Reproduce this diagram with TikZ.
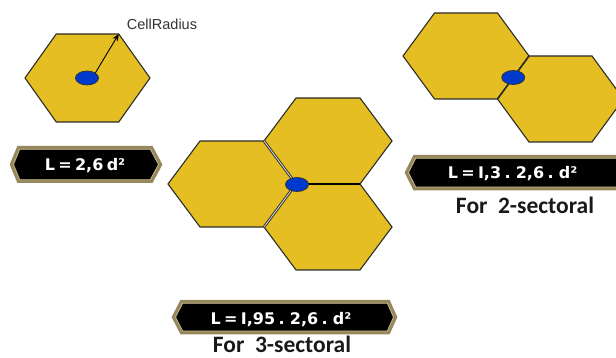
\documentclass[tikz,border=0pt]{standalone}
\usepackage{fontspec}
\setmainfont{Liberation Sans}
\newfontfamily\boxfont[WordSpace=0.6]{DejaVu Sans}
\newfontfamily\capfont{Carlito}
\usetikzlibrary{arrows.meta,shapes.geometric}
\definecolor{hexfill}{RGB}{228,190,34}
\definecolor{hexedge}{RGB}{45,45,40}
\definecolor{dotblue}{RGB}{0,58,205}
\definecolor{boxrim}{RGB}{150,136,92}
\definecolor{boxrimlight}{RGB}{196,184,140}
\definecolor{captext}{RGB}{25,25,25}
\tikzset{
  hexline/.style={draw=hexedge, fill=hexfill, line width=1.1pt, line join=miter},
  sharededge/.style={draw=hexedge, line width=0.9pt, double=gray!35, double distance=0.9pt},
  bsdot/.style={ellipse, draw=black!80, fill=dotblue, line width=0.8pt, minimum width=23pt, minimum height=14pt, inner sep=0pt},
  rimbox/.style={draw=boxrim, fill=black, line width=3.4pt, line join=miter},
  rimlight/.style={draw=boxrimlight, line width=0.8pt, line join=miter},
  boxtext/.style={text=white, font=\boxfont\bfseries\fontsize{16}{16}\selectfont, anchor=base, inner sep=0pt},
  captiontext/.style={text=captext, font=\capfont\bfseries\fontsize{23.5}{23.5}\selectfont, anchor=base, inner sep=0pt},
  radiustext/.style={text=black!80, font=\fontsize{14.5}{14.5}\selectfont, inner sep=0pt}
}
% hexagon: centre x, centre y, half width, half height
\newcommand{\hexcell}[4]{%
  \draw[hexline] ({#1-#3},{#2}) -- ({#1-#3/2},{#2-#4}) -- ({#1+#3/2},{#2-#4})
    -- ({#1+#3},{#2}) -- ({#1+#3/2},{#2+#4}) -- ({#1-#3/2},{#2+#4}) -- cycle;}
% label box: left x, right x, top y, bottom y, left indent, right indent
\newcommand{\labelbox}[6]{%
  \draw[rimbox] ({#1},{(#3+#4)/2}) -- ({#1+#5},{#3}) -- ({#2-#6},{#3})
    -- ({#2},{(#3+#4)/2}) -- ({#2-#6},{#4}) -- ({#1+#5},{#4}) -- cycle;
  \draw[rimlight] ({#1+2},{(#3+#4)/2}) -- ({#1+#5+1.2},{#3+1.6}) -- ({#2-#6-1.2},{#3+1.6})
    -- ({#2-2},{(#3+#4)/2}) -- ({#2-#6-1.2},{#4-1.6}) -- ({#1+#5+1.2},{#4-1.6}) -- cycle;}
\begin{document}
\begin{tikzpicture}[x=1pt,y=-1pt]
\useasboundingbox (0,0) rectangle (616,358);
\clip (0,0) rectangle (616,358);

% ---- single cell ----
\hexcell{87.5}{78}{62.5}{44}
\node[bsdot] (d1) at (87,78) {};
\coordinate (v1) at (118.75,34);
\draw[-{Stealth[length=7pt,width=6pt]}, line width=0.9pt, black] (d1.north east) -- (v1);
\node[radiustext] (cr) at (162,24) {CellRadius};
\labelbox{11.5}{160.5}{147.7}{181.3}{7}{9}
\node[boxtext] (t1) at (85,170.5) {L = 2,6 d²};

% ---- 2-sectoral ----
\hexcell{466}{56}{63}{43}
\hexcell{560.5}{99}{63}{43}
\coordinate (s2a) at (529,56);
\coordinate (s2b) at (497.5,99);
\draw[draw=hexedge, line width=1.6pt] (s2a) -- (s2b);
\node[bsdot] (d2) at (513.25,77.5) {};
\labelbox{406.5}{640}{156.7}{188.6}{8}{8}
\node[boxtext] (t2) at (512.5,179) {L = I,3 . 2,6 . d²};
\node[captiontext] (c2) at (525,214) {For\ \ 2-sectoral};

% ---- 3-sectoral ----
\hexcell{232}{184}{64}{43}
\hexcell{328}{141}{64}{43}
\hexcell{328}{227}{64}{43}
\coordinate (cc) at (296,184);
\coordinate (ct) at (264,141);
\coordinate (cb) at (264,227);
\coordinate (cr3) at (360,184);
\draw[sharededge] (cc) -- (ct);
\draw[sharededge] (cc) -- (cb);
\draw[black, line width=2.2pt] (cc) -- (cr3);
\node[bsdot] (d3) at (297,184.5) {};
\labelbox{173.5}{395.5}{301.6}{332.6}{8}{7}
\node[boxtext] (t3) at (281,324) {L = I,95 . 2,6 . d²};
\node[captiontext] (c3) at (282,352.5) {For\ \ 3-sectoral};
\end{tikzpicture}
\end{document}
